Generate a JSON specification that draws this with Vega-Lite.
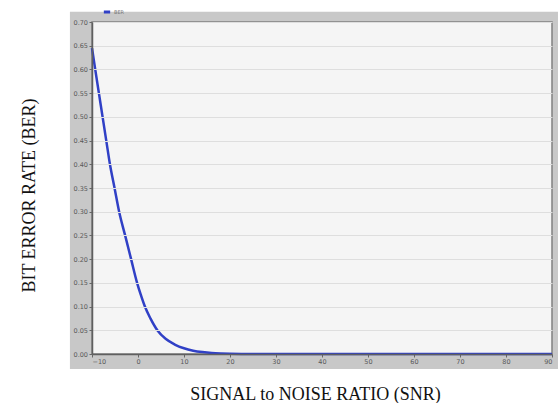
{
  "$schema": "https://vega.github.io/schema/vega-lite/v6.json",
  "width": 460,
  "height": 332,
  "autosize": {"type": "none"},
  "padding": {"left": 92, "top": 22, "right": 6, "bottom": 49},
  "background": "white",
  "config": {
    "view": {"stroke": null},
    "axis": {
      "labelFont": "DejaVu Sans",
      "labelFontSize": 6.5,
      "labelColor": "#5a5a5a",
      "tickColor": "#666666",
      "tickSize": 3,
      "domainColor": "#5f5f5f",
      "domainWidth": 1.5,
      "labelPadding": 1.5,
      "gridColor": "#dedede",
      "gridWidth": 1,
      "titleFont": "Liberation Serif",
      "titleFontSize": 18,
      "titleFontWeight": "normal",
      "titleColor": "#111111"
    },
    "axisX": {"titleX": 223, "titleY": 45, "titleBaseline": "alphabetic", "titleAlign": "center"},
    "axisY": {"titleX": -58, "titleY": 173, "titleBaseline": "alphabetic", "titleAlign": "center", "titleAngle": 270}
  },
  "layer": [
    {
      "data": {"values": [{}]},
      "mark": {"type": "rect", "fill": "#c8c8c8", "clip": false},
      "encoding": {
        "x": {"datum": -14.8, "type": "quantitative", "scale": {"domain": [-10, 90], "nice": false, "zero": false}, "title": "SIGNAL to NOISE RATIO (SNR)",
              "axis": {"values": [-10, 0, 10, 20, 30, 40, 50, 60, 70, 80, 90], "grid": false, "zindex": 2}},
        "x2": {"datum": 91.3},
        "y": {"datum": -0.0316, "type": "quantitative", "scale": {"domain": [0, 0.7], "nice": false}, "title": "BIT ERROR RATE (BER)",
              "axis": {"values": [0, 0.05, 0.1, 0.15, 0.2, 0.25, 0.3, 0.35, 0.4, 0.45, 0.5, 0.55, 0.6, 0.65, 0.7], "format": ".2f", "grid": true, "zindex": 2}},
        "y2": {"datum": 0.7217}
      }
    },
    {
      "data": {"values": [{}]},
      "mark": {"type": "rect", "fill": "#f5f5f5", "stroke": "#808080", "strokeWidth": 1.5, "clip": false},
      "encoding": {
        "x": {"datum": -10, "type": "quantitative", "title": "SIGNAL to NOISE RATIO (SNR)",
              "axis": {"values": [-10, 0, 10, 20, 30, 40, 50, 60, 70, 80, 90], "grid": false, "zindex": 2}},
        "x2": {"datum": 90},
        "y": {"datum": 0, "type": "quantitative", "title": "BIT ERROR RATE (BER)",
              "axis": {"values": [0, 0.05, 0.1, 0.15, 0.2, 0.25, 0.3, 0.35, 0.4, 0.45, 0.5, 0.55, 0.6, 0.65, 0.7], "format": ".2f", "grid": true, "zindex": 2}},
        "y2": {"datum": 0.7}
      }
    },
    {
      "data": {
        "values": [
          {"snr": -10, "ber": 0.645, "series": "BER"},
          {"snr": -9.3, "ber": 0.6, "series": "BER"},
          {"snr": -8.5, "ber": 0.55, "series": "BER"},
          {"snr": -7.7, "ber": 0.5, "series": "BER"},
          {"snr": -6.9, "ber": 0.45, "series": "BER"},
          {"snr": -6.1, "ber": 0.4, "series": "BER"},
          {"snr": -5.1, "ber": 0.35, "series": "BER"},
          {"snr": -4.1, "ber": 0.3, "series": "BER"},
          {"snr": -2.8, "ber": 0.25, "series": "BER"},
          {"snr": -1.5, "ber": 0.2, "series": "BER"},
          {"snr": -0.2, "ber": 0.15, "series": "BER"},
          {"snr": 0.6, "ber": 0.125, "series": "BER"},
          {"snr": 1.5, "ber": 0.1, "series": "BER"},
          {"snr": 2.7, "ber": 0.075, "series": "BER"},
          {"snr": 4.2, "ber": 0.05, "series": "BER"},
          {"snr": 6, "ber": 0.032, "series": "BER"},
          {"snr": 8, "ber": 0.02, "series": "BER"},
          {"snr": 10, "ber": 0.012, "series": "BER"},
          {"snr": 12, "ber": 0.007, "series": "BER"},
          {"snr": 14, "ber": 0.004, "series": "BER"},
          {"snr": 16, "ber": 0.002, "series": "BER"},
          {"snr": 18, "ber": 0.001, "series": "BER"},
          {"snr": 20, "ber": 0.0005, "series": "BER"},
          {"snr": 23, "ber": 0.0002, "series": "BER"},
          {"snr": 26, "ber": 0.0001, "series": "BER"},
          {"snr": 30, "ber": 0.00003, "series": "BER"},
          {"snr": 40, "ber": 0, "series": "BER"},
          {"snr": 50, "ber": 0, "series": "BER"},
          {"snr": 60, "ber": 0, "series": "BER"},
          {"snr": 70, "ber": 0, "series": "BER"},
          {"snr": 80, "ber": 0, "series": "BER"},
          {"snr": 90, "ber": 0, "series": "BER"}
        ]
      },
      "mark": {"type": "line", "interpolate": "monotone", "strokeWidth": 2.5, "clip": false},
      "encoding": {
        "x": {"field": "snr", "type": "quantitative", "title": "SIGNAL to NOISE RATIO (SNR)",
              "axis": {"values": [-10, 0, 10, 20, 30, 40, 50, 60, 70, 80, 90], "grid": false, "zindex": 2}},
        "y": {"field": "ber", "type": "quantitative", "title": "BIT ERROR RATE (BER)",
              "axis": {"values": [0, 0.05, 0.1, 0.15, 0.2, 0.25, 0.3, 0.35, 0.4, 0.45, 0.5, 0.55, 0.6, 0.65, 0.7], "format": ".2f", "grid": true, "zindex": 2}},
        "color": {
          "field": "series", "type": "nominal",
          "scale": {"range": ["#3040c6"]},
          "legend": {"orient": "none", "legendX": 10, "legendY": -15, "title": null, "symbolType": "stroke", "symbolSize": 40, "symbolStrokeWidth": 3, "labelFontSize": 5, "labelColor": "#777777", "labelFont": "DejaVu Sans", "labelOffset": 2}
        }
      }
    }
  ]
}
